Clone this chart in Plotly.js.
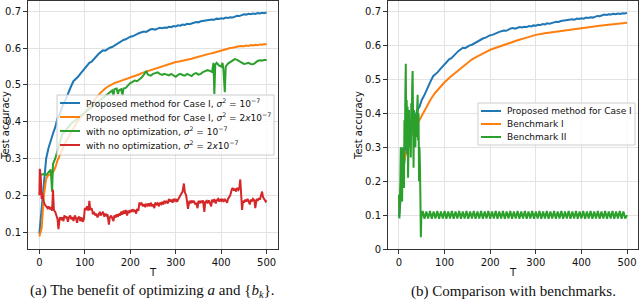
<!DOCTYPE html>
<html><head><meta charset="utf-8">
<script src="https://cdn.plot.ly/plotly-3.0.1.min.js"></script>
<style>html,body{margin:0;padding:0;background:#fff}#chart{width:640px;height:300px}</style>
</head><body><div id="chart"></div>
<script>
// ---------- data ----------
const tBlue = [0,5,10,15,20,25,30,35,40,45,50,55,60,65,70,75,80,85,90,95,100,105,110,115,120,125,130,135,140,145,150,155,160,165,170,175,180,185,190,195,200,205,210,215,220,225,230,235,240,245,250,255,260,265,270,275,280,285,290,295,300,305,310,315,320,325,330,335,340,345,350,355,360,365,370,375,380,385,390,395,400,405,410,415,420,425,430,435,440,445,450,455,460,465,470,475,480,485,490,495,500];
const proposed1 = [0.095,0.16,0.24,0.30,0.328,0.35,0.368,0.385,0.41,0.42,0.44,0.452,0.468,0.485,0.497,0.51,0.515,0.522,0.53,0.537,0.545,0.553,0.56,0.563,0.571,0.578,0.584,0.589,0.594,0.593,0.598,0.601,0.603,0.607,0.611,0.614,0.619,0.622,0.624,0.628,0.631,0.632,0.636,0.638,0.641,0.643,0.645,0.644,0.648,0.651,0.652,0.65,0.653,0.655,0.654,0.656,0.655,0.658,0.657,0.66,0.659,0.662,0.661,0.664,0.663,0.666,0.665,0.668,0.669,0.671,0.67,0.673,0.674,0.676,0.675,0.677,0.678,0.677,0.68,0.679,0.681,0.68,0.683,0.682,0.684,0.683,0.686,0.688,0.687,0.69,0.692,0.691,0.693,0.692,0.694,0.693,0.695,0.694,0.696,0.695,0.697];
const proposed2 = [0.088,0.11,0.2,0.245,0.255,0.257,0.262,0.275,0.295,0.31,0.325,0.337,0.35,0.36,0.372,0.383,0.393,0.402,0.41,0.419,0.427,0.435,0.443,0.45,0.458,0.465,0.472,0.479,0.486,0.49,0.495,0.499,0.502,0.505,0.507,0.509,0.512,0.514,0.516,0.518,0.521,0.522,0.525,0.527,0.529,0.532,0.534,0.536,0.538,0.54,0.543,0.545,0.547,0.55,0.552,0.554,0.556,0.557,0.559,0.56,0.562,0.563,0.564,0.566,0.567,0.568,0.57,0.571,0.573,0.575,0.576,0.578,0.579,0.581,0.583,0.585,0.586,0.588,0.589,0.591,0.592,0.594,0.596,0.598,0.6,0.601,0.603,0.604,0.605,0.606,0.605,0.607,0.606,0.608,0.607,0.609,0.608,0.61,0.609,0.611,0.61];

const tNoOpt1 = [0,5,10,15,20,25,28,30,35,40,45,50,55,60,65,70,75,80,85,90,95,100,105,110,115,120,125,130,135,140,145,150,155,160,163,165,170,173,175,180,183,185,190,195,200,205,210,215,220,225,230,235,238,240,245,250,255,260,265,270,275,280,285,290,295,300,305,310,315,320,325,330,335,340,345,350,355,360,365,370,375,380,383,385,387,390,395,400,403,405,408,410,415,420,425,430,435,440,445,450,455,460,465,470,475,480,485,490,495,500];
const noOpt1 = [0.255,0.256,0.258,0.255,0.262,0.27,0.21,0.285,0.3,0.32,0.345,0.365,0.372,0.38,0.39,0.395,0.4,0.405,0.41,0.415,0.42,0.425,0.43,0.435,0.44,0.445,0.45,0.455,0.46,0.465,0.47,0.475,0.48,0.485,0.47,0.488,0.49,0.475,0.485,0.488,0.472,0.49,0.492,0.498,0.505,0.508,0.512,0.51,0.515,0.52,0.528,0.538,0.53,0.527,0.525,0.53,0.532,0.534,0.53,0.527,0.53,0.528,0.526,0.53,0.525,0.522,0.527,0.53,0.527,0.525,0.53,0.528,0.524,0.53,0.532,0.528,0.53,0.535,0.538,0.54,0.538,0.535,0.56,0.475,0.555,0.56,0.553,0.55,0.56,0.54,0.48,0.55,0.558,0.562,0.567,0.57,0.568,0.565,0.56,0.557,0.558,0.56,0.557,0.556,0.56,0.565,0.567,0.566,0.568,0.567];

const tNoOpt2 = [0,1,3,5,7,9,12,15,18,20,23,25,28,30,32,35,38,40,42,45,48,50,53,55,58,60,63,65,68,70,73,75,78,80,83,85,88,90,93,95,98,100,103,105,108,110,112,115,118,120,123,125,128,130,133,135,138,140,143,145,148,150,153,155,158,160,163,165,168,170,173,175,178,180,183,185,188,190,193,195,198,200,203,205,208,210,213,215,218,220,223,225,228,230,233,235,238,240,243,245,248,250,253,255,258,260,263,265,268,270,273,275,278,280,283,285,288,290,293,295,298,300,303,305,308,310,313,315,318,320,323,325,327,330,333,335,338,340,343,345,348,350,353,355,358,360,363,365,368,370,373,375,378,380,383,385,388,390,393,395,398,400,403,405,408,410,413,415,418,420,423,425,428,430,433,435,438,440,442,444,446,448,450,453,455,458,460,463,465,468,470,473,475,478,480,483,485,488,490,492,495,498,500];
const noOpt2 = [0.2,0.272,0.25,0.19,0.205,0.185,0.175,0.17,0.165,0.17,0.162,0.168,0.158,0.215,0.16,0.155,0.14,0.135,0.108,0.14,0.135,0.14,0.13,0.145,0.138,0.142,0.128,0.14,0.145,0.135,0.14,0.13,0.145,0.14,0.125,0.138,0.142,0.13,0.14,0.128,0.135,0.165,0.16,0.17,0.158,0.185,0.16,0.165,0.148,0.155,0.145,0.15,0.14,0.148,0.155,0.145,0.15,0.155,0.142,0.15,0.145,0.148,0.12,0.14,0.145,0.138,0.13,0.145,0.14,0.148,0.142,0.15,0.145,0.155,0.148,0.158,0.15,0.16,0.145,0.158,0.152,0.16,0.155,0.162,0.157,0.16,0.15,0.163,0.158,0.18,0.175,0.178,0.17,0.176,0.168,0.175,0.172,0.178,0.17,0.18,0.172,0.175,0.165,0.18,0.175,0.178,0.17,0.18,0.176,0.182,0.175,0.185,0.18,0.183,0.178,0.19,0.183,0.188,0.18,0.19,0.185,0.19,0.182,0.188,0.195,0.2,0.205,0.21,0.232,0.208,0.2,0.183,0.163,0.185,0.178,0.186,0.18,0.185,0.175,0.18,0.165,0.185,0.178,0.185,0.18,0.186,0.155,0.182,0.185,0.178,0.186,0.18,0.17,0.188,0.182,0.19,0.178,0.186,0.19,0.183,0.19,0.185,0.19,0.182,0.19,0.186,0.18,0.19,0.195,0.2,0.215,0.22,0.213,0.218,0.21,0.22,0.215,0.22,0.243,0.2,0.16,0.185,0.18,0.188,0.183,0.19,0.185,0.175,0.188,0.183,0.19,0.186,0.165,0.19,0.185,0.192,0.188,0.2,0.21,0.195,0.19,0.183,0.186];

const tBench1 = [0,5,10,15,20,25,30,35,40,45,50,60,70,80,90,100,110,120,130,140,150,160,170,180,190,200,220,240,260,280,300,320,340,360,380,400,420,440,460,480,500];
const bench1 = [0.12,0.2,0.25,0.285,0.31,0.33,0.345,0.357,0.368,0.38,0.392,0.42,0.443,0.462,0.478,0.492,0.505,0.516,0.528,0.539,0.55,0.56,0.567,0.575,0.581,0.588,0.598,0.608,0.616,0.624,0.632,0.637,0.641,0.645,0.649,0.653,0.656,0.659,0.662,0.665,0.668];

const tBench2 = [0,1,2,3,4,5,6,7,8,9,10,11,12,13,14,15,16,17,18,19,20,21,22,23,24,25,26,27,28,29,30,31,32,33,34,35,36,37,38,39,40,41,42,43,44,45,46,47,48,49,50,52,56,60,64,68,72,76,80,84,88,92,96,100,104,108,112,116,120,124,128,132,136,140,144,148,152,156,160,164,168,172,176,180,184,188,192,196,200,204,208,212,216,220,224,228,232,236,240,244,248,252,256,260,264,268,272,276,280,284,288,292,296,300,304,308,312,316,320,324,328,332,336,340,344,348,352,356,360,364,368,372,376,380,384,388,392,396,400,404,408,412,416,420,424,428,432,436,440,444,448,452,456,460,464,468,472,476,480,484,488,492,496,500];
const bench2 = [0.16,0.09,0.12,0.2,0.3,0.17,0.26,0.14,0.3,0.2,0.28,0.18,0.38,0.3,0.46,0.547,0.31,0.44,0.28,0.42,0.21,0.38,0.41,0.3,0.34,0.37,0.27,0.43,0.35,0.48,0.525,0.38,0.24,0.41,0.33,0.36,0.3,0.4,0.33,0.38,0.44,0.455,0.32,0.4,0.2,0.3,0.25,0.15,0.035,0.09,0.1,
0.112,0.089,0.111,0.09,0.112,0.089,0.111,0.09,0.112,0.089,0.111,0.09,0.112,0.089,0.111,0.09,0.112,0.089,0.111,0.09,0.112,0.089,0.111,0.09,0.112,0.089,0.111,0.09,0.112,0.089,0.111,0.09,0.112,0.089,0.111,0.09,0.112,0.089,0.111,0.09,0.112,0.089,0.111,0.09,0.112,0.089,0.111,0.09,0.112,0.089,0.111,0.09,0.112,0.089,0.111,0.09,0.112,0.089,0.111,0.09,0.112,0.089,0.111,0.09,0.112,0.089,0.111,0.09,0.112,0.089,0.111,0.09,0.112,0.089,0.111,0.09,0.112,0.089,0.111,0.09,0.112,0.089,0.111,0.09,0.112,0.089,0.111,0.09,0.112,0.089,0.111,0.09,0.112,0.089,0.111,0.09,0.112,0.089,0.111,0.09,0.112,0.089,0.111,0.09,0.112,0.089,0.111,0.09,0.112,0.089,0.111,0.09,0.1];

const namesLeft = [
  "Proposed method for Case I, <i>σ</i><sup>2</sup> = 10<sup>−7</sup>",
  "Proposed method for Case I, <i>σ</i><sup>2</sup> = 2<i>x</i>10<sup>−7</sup>",
  "with no optimization, <i>σ</i><sup>2</sup> = 10<sup>−7</sup>",
  "with no optimization, <i>σ</i><sup>2</sup> = 2<i>x</i>10<sup>−7</sup>"
];
const namesRight = ["Proposed method for Case I", "Benchmark I", "Benchmark II"];
const xTicks = [0,100,200,300,400,500];
const captionA = "(a) The benefit of optimizing <i>a</i> and {<i>b</i><sub><i>k</i></sub>}.";
const captionB = "(b) Comparison with benchmarks.";

// ---------- styling ----------
const C = ['#1f77b4','#ff7f0e','#2ca02c','#d62728'];
const FONT = 'DejaVu Sans';
const LW = 2;
const W = 640, H = 300;
const px = v => v / W, py = v => 1 - v / H;
function line(x, y, color, name, xa, ya) {
  return {x:x, y:y, type:'scatter', mode:'lines', name:name, xaxis:xa, yaxis:ya,
          line:{color:color, width:LW}, showlegend:false};
}
const traces = [
  line(tBlue, proposed1, C[0], namesLeft[0], 'x', 'y'),
  line(tBlue, proposed2, C[1], namesLeft[1], 'x', 'y'),
  line(tNoOpt1, noOpt1, C[2], namesLeft[2], 'x', 'y'),
  line(tNoOpt2, noOpt2, C[3], namesLeft[3], 'x', 'y'),
  line(tBlue, proposed1, C[0], namesRight[0], 'x2', 'y2'),
  line(tBench1, bench1, C[1], namesRight[1], 'x2', 'y2'),
  line(tBench2, bench2, C[2], namesRight[2], 'x2', 'y2')
];
const axBase = {showline:true, mirror:true, linecolor:'#333', linewidth:1, showgrid:true, gridcolor:'#e3e3e3', gridwidth:1,
  zeroline:false, ticks:'outside', ticklen:4, tickwidth:1, tickcolor:'#333', automargin:false,
  tickfont:{family:FONT, size:10, color:'#111'}};
function ax(extra){ return Object.assign({}, axBase, extra); }

// legends drawn as boxes + sample lines + labels
const shapes = [], annotations = [];
function legendBox(x0, x1, y0, y1, rows, lineX0, lineX1, textX, names, colors) {
  shapes.push({type:'rect', xref:'paper', yref:'paper', x0:px(x0), x1:px(x1), y0:py(y1), y1:py(y0),
    fillcolor:'rgba(255,255,255,0.8)', line:{color:'#cccccc', width:1}, layer:'above'});
  names.forEach((n, i) => {
    shapes.push({type:'line', xref:'paper', yref:'paper', x0:px(lineX0), x1:px(lineX1), y0:py(rows[i]), y1:py(rows[i]),
      line:{color:colors[i], width:LW}, layer:'above'});
    annotations.push({text:n, xref:'paper', yref:'paper', x:px(textX), y:py(rows[i]), xanchor:'left', yanchor:'middle',
      showarrow:false, font:{family:FONT, size:9, color:'#111'}});
  });
}
legendBox(57, 274, 95, 155, [103, 117, 131, 145], 60, 80, 84, namesLeft, C);
legendBox(478, 635, 103, 145, [111, 124, 137], 481, 501, 505, namesRight, C.slice(0,3));

annotations.push({text:captionA, xref:'paper', yref:'paper', x:px(152), y:py(291), xanchor:'center', yanchor:'middle',
  showarrow:false, font:{family:'Liberation Serif', size:15, color:'#111'}});
annotations.push({text:captionB, xref:'paper', yref:'paper', x:px(513), y:py(291), xanchor:'center', yanchor:'middle',
  showarrow:false, font:{family:'Liberation Serif', size:15, color:'#111'}});

const layout = {
  width:W, height:H, autosize:false, margin:{l:0,r:0,t:0,b:0},
  paper_bgcolor:'#fff', plot_bgcolor:'#fff', showlegend:false,
  font:{family:FONT, size:10, color:'#111'},
  xaxis: ax({domain:[px(28), px(278)], range:[-25,525], tickvals:xTicks, anchor:'y',
    title:{text:'T', font:{family:FONT,size:10}, standoff:1}}),
  yaxis: ax({domain:[py(249), py(1)], range:[0.054,0.728], dtick:0.1, tick0:0, anchor:'x',
    title:{text:'Test accuracy', font:{family:FONT,size:10}, standoff:0}}),
  xaxis2: ax({domain:[px(388), px(638)], range:[-24,524], tickvals:xTicks, anchor:'y2',
    title:{text:'T', font:{family:FONT,size:10}, standoff:1}}),
  yaxis2: ax({domain:[py(249), py(1)], range:[0,0.732], dtick:0.1, tick0:0, anchor:'x2',
    title:{text:'Test accuracy', font:{family:FONT,size:10}, standoff:0}}),
  shapes: shapes,
  annotations: annotations
};
Plotly.newPlot('chart', traces, layout, {staticPlot:true, displayModeBar:false});
</script>
</body></html>
